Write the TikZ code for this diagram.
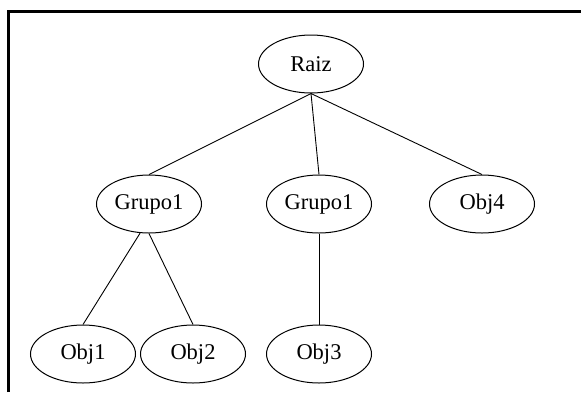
\documentclass[tikz,border=0pt]{standalone}
\usepackage{fontspec}
\setmainfont{Liberation Serif}
\usetikzlibrary{shapes.geometric}
\begin{document}
\begin{tikzpicture}[x=1pt,y=-1pt,
  treenode/.style={draw, line width=1pt, ellipse, minimum width=105pt,
    minimum height=58pt, inner sep=0pt, font=\fontsize{22.5}{24}\selectfont},
  link/.style={draw, line width=0.9pt}]
  \useasboundingbox (0,0) rectangle (581,392);
  % open frame: left and top sides only
  \draw[line width=2.6pt] (8.5,392) -- (8.5,11.5) -- (581,11.5);
  % nodes
  \node[treenode] (raiz) at (311,64) {Raiz};
  \node[treenode] (g1) at (149,204) {Grupo1};
  \node[treenode] (g2) at (319,204) {Grupo1};
  \node[treenode] (o4) at (482,204) {Obj4};
  \node[treenode] (o1) at (83,354) {Obj1};
  \node[treenode] (o2) at (193,354) {Obj2};
  \node[treenode] (o3) at (319,354) {Obj3};
  % connectors
  \draw[link] (raiz.south) -- (g1.north);
  \draw[link] (raiz.south) -- (g2.north);
  \draw[link] (raiz.south) -- (o4.north);
  \draw[link] (g1.253) -- (o1.north);
  \draw[link] (g1.south) -- (o2.north);
  \draw[link] (g2.south) -- (o3.north);
\end{tikzpicture}
\end{document}
